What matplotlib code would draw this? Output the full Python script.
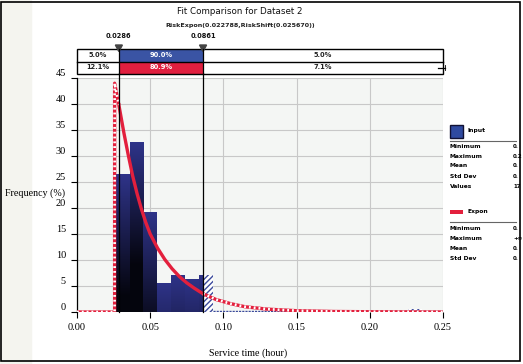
import numpy as np
import matplotlib.pyplot as plt
from matplotlib.patches import Rectangle, Polygon

W, H = 523, 364

# histogram of the input data (density)
bin_edges = [0.0264, 0.0359, 0.0454, 0.0549, 0.0644, 0.0739, 0.0834, 0.0929]
bin_heights = [26.5, 32.5, 19.2, 5.4, 7.1, 6.2, 7.1]
tail_bin = [0.2259, 0.2354]
tail_height = 0.6

# fitted Expon curve
curve_x = [0.0, 0.0257, 0.0257, 0.0286, 0.0320, 0.0350, 0.0380, 0.0410, 0.0440,
           0.0470, 0.0500, 0.0550, 0.0600, 0.0650, 0.0700, 0.0750, 0.0800,
           0.0861, 0.0950, 0.1050, 0.1150, 0.1300, 0.1500, 0.1750, 0.2000, 0.2500]
curve_y = [0.0, 0.0, 44.0, 39.8, 34.5, 30.2, 26.2, 22.8, 19.8,
           17.2, 15.0, 12.3, 10.1, 8.3, 6.8, 5.6, 4.6,
           3.5, 2.4, 1.6, 1.0, 0.55, 0.25, 0.1, 0.05, 0.0]

delim = [0.0286, 0.0861]
input_pct = ["5.0%", "90.0%", "5.0%"]
expon_pct = ["12.1%", "80.9%", "7.1%"]

# stats columns are cut by the frame in the original, only the start shows
input_stats = [("Minimum", "0."), ("Maximum", "0.2"), ("Mean", "0."),
               ("Std Dev", "0."), ("Values", "17")]
expon_stats = [("Minimum", "0."), ("Maximum", "+\u221e"), ("Mean", "0."),
               ("Std Dev", "0.")]

RED = "#e3203d"
NAVY = np.array([0x2e, 0x33, 0x88]) / 255
HATCH_BLUE = "#3b4a9c"


def px(x, y):
    return x / W, 1 - y / H


def striped(ax, x, y, lw=2.4):
    ax.plot(x, y, color=RED, lw=lw, solid_capstyle="butt", zorder=3)
    ax.plot(x, y, color="white", lw=lw * 0.8, dashes=(0.7, 1.1), zorder=3.1)


fig = plt.figure(figsize=(W / 100, H / 100), dpi=100)
fig.patches.append(Rectangle((0, 0), 31 / W, 1, transform=fig.transFigure,
                             color="#f4f4ef", zorder=0))

ax = fig.add_axes([77 / W, 52 / H, 366 / W, 234 / H])
ax.set_facecolor("#f4f6f4")
ax.set_xlim(0, 0.25)
ax.set_ylim(0, 45)

# gradient bars, navy on top getting darker downwards
for i, h in enumerate(bin_heights):
    l, r = bin_edges[i], bin_edges[i + 1]
    n = 80
    depth = h - np.linspace(0, h, n)
    f = 1 - np.minimum(depth / 26.0, 0.9)
    img = (NAVY[None, :] * f[:, None])[:, None, :]
    rs = min(r, delim[1])
    ax.imshow(img, extent=[l, rs, 0, h], origin="lower", aspect="auto",
              interpolation="bilinear", zorder=2)
    if r > delim[1]:
        ax.add_patch(Rectangle((delim[1], 0), r - delim[1], h, facecolor="white",
                               edgecolor=HATCH_BLUE, hatch="//////", lw=0, zorder=2))
ax.add_patch(Rectangle((tail_bin[0], 0), tail_bin[1] - tail_bin[0], tail_height,
                       facecolor="white", edgecolor=HATCH_BLUE, hatch="//////",
                       lw=0, zorder=2))
ax.plot([bin_edges[-1], 0.25], [0.15, 0.15], color=HATCH_BLUE, lw=1.0,
        dashes=(1.5, 0.8), zorder=2)

# curve: striped outside the delimiters, solid inside
cx, cy = np.array(curve_x), np.array(curve_y)
left = cx <= delim[0]
left[2] = True
mid = (cx >= delim[0]) & (cx <= delim[1])
right = cx >= delim[1]
striped(ax, cx[left], cy[left])
ax.plot(cx[mid], cy[mid], color=RED, lw=2.4, zorder=3)
striped(ax, cx[right], cy[right])

for d in delim:
    ax.axvline(d, ymin=0, ymax=1.02, color="black", lw=0.9, zorder=4, clip_on=False)

ax.set_xticks(np.arange(0, 0.2501, 0.05))
ax.set_xticklabels(["0.00", "0.05", "0.10", "0.15", "0.20", "0.25"])
ax.set_yticks(np.arange(0, 46, 5))
ax.grid(True, color="#c8c8c8", lw=0.8)
ax.set_axisbelow(True)
for s in ["top", "right", "bottom"]:
    ax.spines[s].set_visible(False)
ax.spines["left"].set_linewidth(0.9)
ax.tick_params(direction="out", length=4, width=0.8, pad=4,
               labelsize=7.4, labelfontfamily="Liberation Serif")
for lab in ax.get_yticklabels():
    lab.set_va("bottom")

fig.text(*px(5, 193), "Frequency (%)", ha="left", va="center",
         family="Liberation Serif", fontsize=7.2)
fig.text(*px(248, 353), "Service time (hour)", ha="center", va="center",
         family="Liberation Serif", fontsize=7.2)

# titles
fig.text(*px(240, 11), "Fit Comparison for Dataset 2", ha="center", va="center",
         fontsize=6.3, color="#111111")
fig.text(*px(240, 25), "RiskExpon(0.022788,RiskShift(0.025670))", ha="center",
         va="center", fontsize=4.6, fontweight="bold", color="#222222")

# delimiter box
bx = fig.add_axes([77 / W, (H - 74) / H, 366 / W, 25 / H])
bx.set_xlim(0, 0.25)
bx.set_ylim(0, 2)
bx.axis("off")
bx.add_patch(Rectangle((delim[0], 1), delim[1] - delim[0], 1, color="#3a54a4", lw=0))
bx.add_patch(Rectangle((delim[0], 0), delim[1] - delim[0], 1, color="#e01f3f", lw=0))
bx.add_patch(Rectangle((0, 0), 0.25, 2, fill=False, edgecolor="black", lw=1.0,
                       clip_on=False))
bx.plot([0, 0.25], [1, 1], color="black", lw=1.0, clip_on=False)
for d in delim:
    bx.plot([d, d], [0, 2], color="black", lw=0.9, clip_on=False)
centers = [delim[0] / 2, (delim[0] + delim[1]) / 2, (delim[1] + 0.25) / 2]
for j, c in enumerate(centers):
    col = "white" if j == 1 else "#222222"
    bx.text(c, 1.55, input_pct[j], ha="center", va="center", fontsize=4.8,
            fontweight="bold", color=col)
    bx.text(c, 0.55, expon_pct[j], ha="center", va="center", fontsize=4.8,
            fontweight="bold", color=col)
bx.plot([0.2465, 0.2515], [0.5, 0.5], color="black", lw=0.9, clip_on=False)
bx.plot([0.2512, 0.2512], [0.35, 0.75], color="black", lw=0.6, clip_on=False)
for d in delim:
    bx.add_patch(Polygon([[d - 0.0024, 2.32], [d + 0.0024, 2.32], [d, 1.8]],
                         closed=True, color="#444444", clip_on=False))
    bx.text(d, 3.0, f"{d:.4f}", ha="center", va="center", fontsize=4.8,
            fontweight="bold", color="#111111")

# legend panel
fig.patches.append(Rectangle(px(450, 138), 13 / W, 13 / H, transform=fig.transFigure,
                             facecolor="#2f4aa0", edgecolor="#111133", lw=1.0))
fig.text(*px(467, 130), "Input", fontsize=4.3, fontweight="bold", va="center")
fig.lines.append(plt.Line2D([450 / W, 516 / W], [1 - 141 / H] * 2,
                            transform=fig.transFigure, color="#666666", lw=0.8))
for k, (name, val) in enumerate(input_stats):
    y = 146 + 10 * k
    fig.text(*px(450, y), name, fontsize=4.3, fontweight="bold", va="center")
    fig.text(*px(513, y), val, fontsize=4.0, fontweight="bold", va="center")

fig.patches.append(Rectangle(px(450, 214), 13 / W, 4 / H, transform=fig.transFigure,
                             facecolor=RED, lw=0))
fig.text(*px(467, 211), "Expon", fontsize=4.3, fontweight="bold", va="center")
fig.lines.append(plt.Line2D([450 / W, 516 / W], [1 - 222 / H] * 2,
                            transform=fig.transFigure, color="#666666", lw=0.8))
for k, (name, val) in enumerate(expon_stats):
    y = 228 + 10 * k
    fig.text(*px(450, y), name, fontsize=4.3, fontweight="bold", va="center")
    fig.text(*px(513, y), val, fontsize=4.0, fontweight="bold", va="center")

# outer border
fig.patches.append(Rectangle((1 / W, 3 / H), 518.5 / W, 359.5 / H,
                             transform=fig.transFigure, fill=False,
                             edgecolor="black", lw=1.2, zorder=6))

fig.savefig("out.png", dpi=100)
